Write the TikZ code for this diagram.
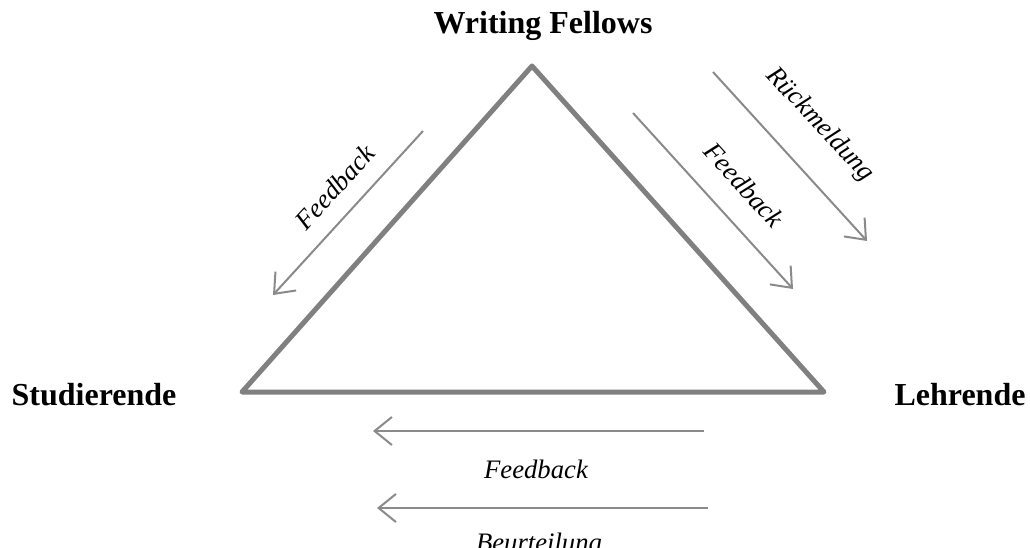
\documentclass[tikz,border=0pt]{standalone}
\usepackage{fontspec}
\setmainfont{Liberation Serif}
\usetikzlibrary{arrows.meta}
\definecolor{edgegray}{RGB}{128,128,128}
\definecolor{arrowgray}{RGB}{138,138,138}
\tikzset{%
        x = 0.75pt,
        y = -0.75pt
}
\tikzstyle{role}=[
    font = \fontsize{24}{28}\selectfont\bfseries,
    inner sep = 0pt,
    anchor = base
]
\tikzstyle{flow}=[
    draw = arrowgray,
    line width = 1.5pt,
    -{Straight Barb[length=13pt,width=21pt,line width=1.5pt]}
]
\tikzstyle{flowlabel}=[
    font = \fontsize{20}{24}\selectfont\itshape,
    inner sep = 0pt
]
\begin{document}
\begin{tikzpicture}
        \useasboundingbox (0,0) rectangle (1030,548);
        % triangle
        \coordinate (wf) at (532,66);
        \coordinate (st) at (242,392);
        \coordinate (le) at (824,392);
        \draw[edgegray, line width=3.75pt, line join=round]
        (wf) -- (st) -- (le) -- cycle;
        \node[role] (wflabel) at (543,34) {Writing Fellows};
        \node[role] (stlabel) at (94,405) {Studierende};
        \node[role] (lelabel) at (960,405) {Lehrende};
        % arrows
        \coordinate (a1) at (423,131);
        \coordinate (b1) at (273,295);
        \coordinate (a2) at (633,113);
        \coordinate (b2) at (793,289);
        \coordinate (a3) at (713,72);
        \coordinate (b3) at (867,241);
        \coordinate (a4) at (704,431);
        \coordinate (b4) at (373,431);
        \coordinate (a5) at (708,508);
        \coordinate (b5) at (377,508);
        \draw[flow] (a1) -- (b1);
        \draw[flow] (a2) -- (b2);
        \draw[flow] (a3) -- (b3);
        \draw[flow] (a4) -- (b4);
        \draw[flow] (a5) -- (b5);
        \node[flowlabel, rotate=47.5] (fb1) at (335,187) {Feedback};
        \node[flowlabel, rotate=-47.7] (fb2) at (744,185) {Feedback};
        \node[flowlabel, rotate=-47] (rm) at (820,125) {Rückmeldung};
        \node[flowlabel, anchor=base] (fb3) at (536,478) {Feedback};
        \node[flowlabel, anchor=base] (bt) at (539,551) {Beurteilung};
    \end{tikzpicture}
\end{document}
